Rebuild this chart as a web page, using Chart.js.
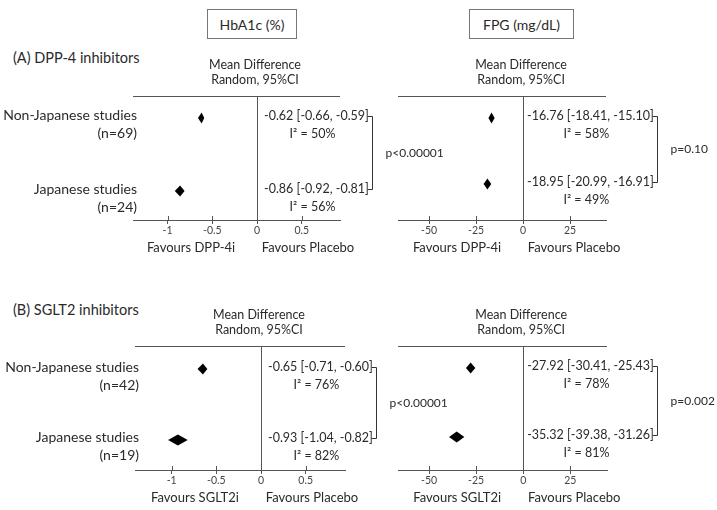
<!DOCTYPE html>
<html>
<head>
<meta charset="utf-8">
<script src="https://cdn.jsdelivr.net/npm/chart.js@4.4.1/dist/chart.umd.min.js"></script>
<style>
  body { margin: 0; background: #fff; }
  #wrap { position: relative; width: 717px; height: 510px; font-family: Lato, sans-serif; color: #2a2a2a; }
  canvas { position: absolute; left: 0; }
  .panel { position: absolute; left: 13px; font-size: 14.5px; line-height: 17px; }
  .box { position: absolute; top: 9px; height: 30px; border: 1px solid #777; box-sizing: border-box;
         font-size: 14px; display: flex; align-items: center; justify-content: center; }
</style>
</head>
<body>
<div id="wrap">
  <div class="box" style="left:207px;width:90px">HbA1c (%)</div>
  <div class="box" style="left:469px;width:105px">FPG (mg/dL)</div>
  <div class="panel" style="top:49px">(A) DPP-4 inhibitors</div>
  <div class="panel" style="top:301px">(B) SGLT2 inhibitors</div>
  <canvas id="aHba1c" width="717" height="255" style="top:0"></canvas>
  <canvas id="aFpg" width="717" height="255" style="top:0"></canvas>
  <canvas id="bHba1c" width="717" height="255" style="top:255px"></canvas>
  <canvas id="bFpg" width="717" height="255" style="top:255px"></canvas>
</div>
<script>
// rows and tick labels
const rowLabels = ['Non-Japanese studies', 'Japanese studies'];
const dppStudies = [69, 24];
const sgltStudies = [42, 19];
const hba1cTicks = [-1, -0.5, 0, 0.5];
const fpgTicks = [-50, -25, 0, 25];

// (A) DPP-4 inhibitors
const dppHba1cMean = [-0.62, -0.86];
const dppHba1cLow = [-0.66, -0.92];
const dppHba1cHigh = [-0.59, -0.81];
const dppHba1cI2 = [50, 56];
const dppFpgMean = [-16.76, -18.95];
const dppFpgLow = [-18.41, -20.99];
const dppFpgHigh = [-15.10, -16.91];
const dppFpgI2 = [58, 49];

// (B) SGLT2 inhibitors
const sgltHba1cMean = [-0.65, -0.93];
const sgltHba1cLow = [-0.71, -1.04];
const sgltHba1cHigh = [-0.60, -0.82];
const sgltHba1cI2 = [76, 82];
const sgltFpgMean = [-27.92, -35.32];
const sgltFpgLow = [-30.41, -39.38];
const sgltFpgHigh = [-25.43, -31.26];
const sgltFpgI2 = [78, 81];

const pValues = ['p<0.00001', 'p=0.10', 'p<0.00001', 'p=0.002'];

const FONT = 'Lato, sans-serif';
const INK = '#2a2a2a';

// draws the diamonds, the top rule and the texts around each forest plot
const forestPlugin = {
    id: 'forest',
    afterDraw(chart, args, o) {
        const ctx = chart.ctx;
        const x = chart.scales.x;
        const area = chart.chartArea;
        const zero = x.getPixelForValue(0);
        const meta = chart.getDatasetMeta(0);
        const ds = chart.data.datasets[0];
        ctx.save();

        ctx.strokeStyle = '#555';
        ctx.lineWidth = 1;
        ctx.beginPath();
        ctx.moveTo(area.left, Math.round(area.top) + 0.5);
        ctx.lineTo(area.right, Math.round(area.top) + 0.5);
        x.ticks.forEach(t => {
            const px = Math.round(x.getPixelForValue(t.value)) + 0.5;
            ctx.moveTo(px, area.bottom - 4);
            ctx.lineTo(px, area.bottom);
        });
        ctx.stroke();

        // diamonds, width = confidence interval
        ctx.fillStyle = '#000';
        meta.data.forEach((pt, i) => {
            const lo = x.getPixelForValue(ds.low[i]);
            const hi = x.getPixelForValue(ds.high[i]);
            ctx.beginPath();
            ctx.moveTo(lo, pt.y);
            ctx.lineTo(pt.x, pt.y - 5.5);
            ctx.lineTo(hi, pt.y);
            ctx.lineTo(pt.x, pt.y + 5.5);
            ctx.closePath();
            ctx.fill();
        });

        ctx.fillStyle = INK;
        ctx.textBaseline = 'middle';
        ctx.font = '12.5px ' + FONT;
        ctx.textAlign = 'center';
        ctx.fillText('Mean Difference', zero - 2, area.top - 31);
        ctx.fillText('Random, 95%CI', zero - 2, area.top - 16);
        ctx.font = '13px ' + FONT;
        ctx.fillText(o.favours[0], zero - 66, area.bottom + 28);
        ctx.fillText(o.favours[1], zero + 51, area.bottom + 28);

        if (o.rows) {
            ctx.font = '14px ' + FONT;
            ctx.textAlign = 'right';
            meta.data.forEach((pt, i) => {
                ctx.fillText(o.rows[i], area.left + 4, pt.y - 2);
                ctx.fillText('(n=' + o.n[i] + ')', area.left + 4, pt.y + 16);
            });
        }

        ctx.font = '12.5px ' + FONT;
        const tx = zero + o.gap;
        let maxRight = 0;
        const ys = [];
        meta.data.forEach((pt, i) => {
            const s = ds.data[i].x.toFixed(2) + ' [' + ds.low[i].toFixed(2) + ', ' + ds.high[i].toFixed(2) + ']';
            const w = ctx.measureText(s).width;
            ctx.textAlign = 'left';
            ctx.fillText(s, tx, pt.y - 2);
            ctx.textAlign = 'center';
            ctx.fillText('I\u00B2 = ' + o.i2[i] + '%', tx + w / 2 - 4, pt.y + 16);
            maxRight = Math.max(maxRight, tx + w);
            ys.push(Math.round(pt.y - 2) + 0.5);
        });

        // bracket joining the two subgroups + p for difference
        const bx = Math.round(maxRight + 3) + 0.5;
        ctx.strokeStyle = '#333';
        ctx.beginPath();
        ctx.moveTo(bx - 5, ys[0]);
        ctx.lineTo(bx, ys[0]);
        ctx.lineTo(bx, ys[1]);
        ctx.lineTo(bx - 5, ys[1]);
        ctx.stroke();
        ctx.textAlign = 'left';
        ctx.font = '12px ' + FONT;
        ctx.fillText(o.p, bx + 13, (ys[0] + ys[1]) / 2);
        ctx.restore();
    }
};

function makeChart(id, c) {
    return new Chart(document.getElementById(id), {
        type: 'scatter',
        data: {
            datasets: [{
                data: c.mean.map((m, i) => ({ x: m, y: i + 1 })),
                low: c.low,
                high: c.high,
                pointRadius: 0
            }]
        },
        options: {
            responsive: false,
            animation: false,
            layout: { padding: c.pad },
            plugins: {
                legend: { display: false },
                tooltip: { enabled: false },
                forest: { rows: c.rows, n: c.n, i2: c.i2, p: c.p, favours: c.favours, gap: c.gap }
            },
            scales: {
                x: {
                    type: 'linear',
                    min: c.xmin,
                    max: c.xmax,
                    afterBuildTicks: s => { s.ticks = c.ticks.map(v => ({ value: v })); },
                    afterFit: s => { s.height = 20; },
                    grid: {
                        color: g => (g.tick && g.tick.value === 0) ? '#555' : 'rgba(0,0,0,0)',
                        tickColor: '#555',
                        tickLength: 4
                    },
                    border: { color: '#555' },
                    ticks: {
                        padding: 0,
                        color: '#444',
                        font: { family: FONT, size: 10.5 },
                        callback: v => String(v)
                    }
                },
                y: { type: 'linear', display: false, reverse: true, min: c.ymin, max: c.ymax }
            }
        },
        plugins: [forestPlugin]
    });
}

makeChart('aHba1c', {
    mean: dppHba1cMean, low: dppHba1cLow, high: dppHba1cHigh, i2: dppHba1cI2,
    rows: rowLabels, n: dppStudies, p: pValues[0], ticks: hba1cTicks, gap: 7,
    favours: ['Favours DPP-4i', 'Favours Placebo'],
    xmin: -1.387, xmax: 0.928, ymin: 0.699, ymax: 2.397,
    pad: { left: 133, right: 377, top: 96, bottom: 15 }
});
makeChart('aFpg', {
    mean: dppFpgMean, low: dppFpgLow, high: dppFpgHigh, i2: dppFpgI2,
    rows: null, n: null, p: pValues[1], ticks: fpgTicks, gap: 4,
    favours: ['Favours DPP-4i', 'Favours Placebo'],
    xmin: -66.5, xmax: 44.1, ymin: 0.667, ymax: 2.545,
    pad: { left: 398, right: 111, top: 96, bottom: 15 }
});
makeChart('bHba1c', {
    mean: sgltHba1cMean, low: sgltHba1cLow, high: sgltHba1cHigh, i2: sgltHba1cI2,
    rows: rowLabels, n: sgltStudies, p: pValues[2], ticks: hba1cTicks, gap: 7,
    favours: ['Favours SGLT2i', 'Favours Placebo'],
    xmin: -1.41, xmax: 0.94, ymin: 0.676, ymax: 2.423,
    pad: { left: 135, right: 372, top: 91, bottom: 20 }
});
makeChart('bFpg', {
    mean: sgltFpgMean, low: sgltFpgLow, high: sgltFpgHigh, i2: sgltFpgI2,
    rows: null, n: null, p: pValues[3], ticks: fpgTicks, gap: 4,
    favours: ['Favours SGLT2i', 'Favours Placebo'],
    xmin: -66.5, xmax: 44.5, ymin: 0.681, ymax: 2.478,
    pad: { left: 398, right: 110, top: 91, bottom: 20 }
});
</script>
</body>
</html>
